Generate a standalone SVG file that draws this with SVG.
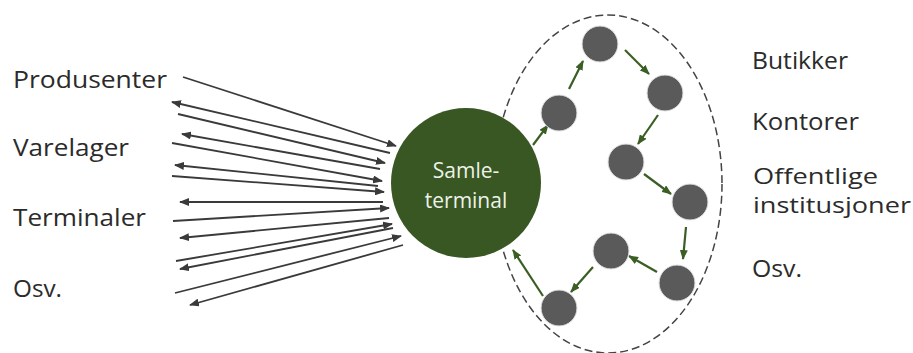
<svg xmlns="http://www.w3.org/2000/svg" width="913" height="353" viewBox="0 0 913 353">
  <style>
    .label { font-family: "Open Sans", "Liberation Sans", sans-serif; font-size: 24px; fill: #2b2b2b; }
    .label-sm { font-size: 22px; }
    .hub-text { font-family: "Open Sans", "Liberation Sans", sans-serif; font-size: 21px; fill: #eef2e8; text-anchor: middle; }
    .flow { stroke: #3a3a3a; stroke-width: 1.8; fill: none; marker-end: url(#headDark); }
    .route { stroke: #3b5e24; stroke-width: 2.2; fill: none; marker-end: url(#headGreen); }
    .stop { fill: #5a5a5a; stroke: #e6e6e6; stroke-width: 1; }
    .area { fill: none; stroke: #444; stroke-width: 1.5; stroke-dasharray: 8 4; }
  </style>
  <defs>
    <marker id="headDark" markerUnits="userSpaceOnUse" markerWidth="10" markerHeight="8" refX="9" refY="4" orient="auto">
      <path d="M0,0 L10,4 L0,8 z" fill="#3a3a3a"/>
    </marker>
    <marker id="headGreen" markerUnits="userSpaceOnUse" markerWidth="10" markerHeight="8" refX="9" refY="4" orient="auto">
      <path d="M0,0 L10,4 L0,8 z" fill="#3b5e24"/>
    </marker>
  </defs>

  <rect width="913" height="353" fill="#ffffff"/>

  <!-- distribution area -->
  <g id="area">
    <ellipse class="area" cx="608" cy="184" rx="114" ry="169"/>
  </g>

  <!-- source labels -->
  <g id="sources">
    <text class="label" x="13" y="88" textLength="154" lengthAdjust="spacingAndGlyphs">Produsenter</text>
    <text class="label" x="13" y="156" textLength="116" lengthAdjust="spacingAndGlyphs">Varelager</text>
    <text class="label" x="13" y="226" textLength="133" lengthAdjust="spacingAndGlyphs">Terminaler</text>
    <text class="label" x="13" y="297" textLength="49" lengthAdjust="spacingAndGlyphs">Osv.</text>
  </g>

  <!-- destination labels -->
  <g id="destinations">
    <text class="label" x="752" y="69" textLength="96" lengthAdjust="spacingAndGlyphs">Butikker</text>
    <text class="label" x="752" y="130" textLength="107" lengthAdjust="spacingAndGlyphs">Kontorer</text>
    <text class="label label-sm">
      <tspan x="753" y="184" textLength="125" lengthAdjust="spacingAndGlyphs">Offentlige</tspan>
      <tspan x="753" y="213" textLength="158" lengthAdjust="spacingAndGlyphs">institusjoner</tspan>
    </text>
    <text class="label" x="752" y="277" textLength="50" lengthAdjust="spacingAndGlyphs">Osv.</text>
  </g>

  <!-- connectors -->
  <g id="connectors">
    <!-- inbound / outbound flows to the terminal -->
    <line class="flow" x1="183" y1="77" x2="396" y2="146"/>
    <line class="flow" x1="390" y1="153" x2="172" y2="102"/>
    <line class="flow" x1="178" y1="114" x2="385" y2="163"/>
    <line class="flow" x1="380" y1="169" x2="182" y2="134"/>
    <line class="flow" x1="172" y1="143" x2="382" y2="181"/>
    <line class="flow" x1="378" y1="186" x2="175" y2="165"/>
    <line class="flow" x1="172" y1="176" x2="384" y2="192"/>
    <line class="flow" x1="383" y1="202" x2="180" y2="202"/>
    <line class="flow" x1="173" y1="221" x2="389" y2="208"/>
    <line class="flow" x1="389" y1="218" x2="180" y2="238"/>
    <line class="flow" x1="176" y1="261" x2="392" y2="224"/>
    <line class="flow" x1="393" y1="228" x2="180" y2="269"/>
    <line class="flow" x1="175" y1="293" x2="401" y2="236"/>
    <line class="flow" x1="403" y1="245" x2="190" y2="305"/>

    <!-- delivery route -->
    <line class="route" x1="533" y1="145" x2="548" y2="125"/>
    <line class="route" x1="569" y1="89" x2="583" y2="61"/>
    <line class="route" x1="625" y1="50" x2="649" y2="74"/>
    <line class="route" x1="658" y1="115" x2="638" y2="144"/>
    <line class="route" x1="644" y1="174" x2="671" y2="194"/>
    <line class="route" x1="686" y1="227" x2="683" y2="259"/>
    <line class="route" x1="657" y1="272" x2="629" y2="256"/>
    <line class="route" x1="593" y1="267" x2="571" y2="292"/>
    <line class="route" x1="543" y1="296" x2="513" y2="250"/>
  </g>

  <!-- terminal hub -->
  <g id="hub">
    <circle cx="466" cy="183" r="75" fill="#385723"/>
    <text class="hub-text" x="466" y="178">Samle-</text>
    <text class="hub-text" x="466" y="208">terminal</text>
  </g>

  <!-- delivery stops -->
  <g id="stop-1"><circle class="stop" cx="559" cy="113" r="18"/></g>
  <g id="stop-2"><circle class="stop" cx="600" cy="44" r="18"/></g>
  <g id="stop-3"><circle class="stop" cx="665" cy="93" r="18"/></g>
  <g id="stop-4"><circle class="stop" cx="626" cy="162" r="18"/></g>
  <g id="stop-5"><circle class="stop" cx="690" cy="202" r="18"/></g>
  <g id="stop-6"><circle class="stop" cx="677" cy="283" r="18"/></g>
  <g id="stop-7"><circle class="stop" cx="611" cy="251" r="18"/></g>
  <g id="stop-8"><circle class="stop" cx="559" cy="308" r="18"/></g>
</svg>
